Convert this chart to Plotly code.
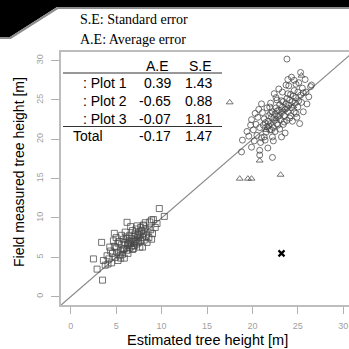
import plotly.graph_objects as go

# ---------------- data ----------------
plot1_est = [9.75, 10.3, 8.9, 6.2, 8.0, 4.8, 3.4, 2.5, 2.9, 3.5, 4.1, 3.6,
             5.0, 5.3, 5.5, 5.6, 5.8, 5.9, 6.0, 6.1, 6.2, 6.3, 6.4, 6.5, 6.5, 6.6, 6.7, 6.8, 6.9, 7.0,
             7.0, 7.1, 7.2, 7.3, 7.4, 7.5, 7.5, 7.6, 7.7, 7.8, 7.9, 8.0, 8.1, 8.2, 8.3, 8.5, 8.6, 8.8,
             9.0, 4.6, 4.8, 4.9, 5.1, 5.2, 5.4, 5.7, 5.2, 5.5, 4.4, 4.2, 4.5, 6.0, 5.6, 6.8, 7.2, 7.6,
             8.4, 8.9, 9.3, 9.5, 6.3, 6.9, 5.9, 4.0, 3.8, 4.7, 5.0, 6.6, 7.3, 8.0, 8.7, 7.9, 6.2, 6.7,
             7.4, 5.8, 6.4, 7.1, 7.7, 8.2, 9.1, 4.3]
plot1_obs = [11.2, 10.2, 9.75, 9.45, 9.1, 8.05, 6.9, 4.8, 3.5, 2.1, 4.15, 4.6,
             6.2, 7.0, 5.8, 6.6, 7.3, 6.1, 6.9, 7.6, 5.9, 6.5, 7.1, 7.8, 6.2, 6.8, 7.4, 6.0, 7.0, 7.7,
             6.5, 8.0, 7.2, 6.7, 7.5, 8.2, 6.9, 7.8, 7.1, 8.4, 7.5, 8.0, 7.2, 8.6, 7.7, 8.2, 7.5, 8.5,
             8.0, 5.5, 6.4, 5.0, 5.6, 6.8, 5.2, 5.4, 4.6, 4.9, 5.8, 4.8, 4.3, 8.2, 7.8, 8.4, 8.6, 6.3,
             6.9, 7.3, 8.8, 9.3, 5.5, 6.1, 4.9, 5.2, 4.0, 7.1, 7.5, 8.9, 9.0, 9.0, 9.5, 6.3, 7.4, 6.4,
             7.9, 6.0, 6.8, 7.0, 8.8, 9.4, 9.8, 6.3]

plot2_est = [23.8, 25.3, 23.9, 25.8, 26.4, 24.8, 25.6, 26.0, 25.2, 22.7, 19.9, 19.8, 20.1, 23.2,
             22.2, 18.9, 18.8, 20.8, 22.2, 20.8,
             20.5, 20.8, 21.0, 21.2, 21.3, 21.5, 21.6, 21.7, 21.8, 21.9, 22.0, 22.1, 22.2, 22.3,
             22.4, 22.5, 22.6, 22.7, 22.8, 22.9, 23.0, 23.1, 23.2, 23.3, 23.4, 23.5, 23.6, 23.7,
             23.8, 23.9, 24.0, 24.1, 24.2, 24.3, 24.4, 24.5, 24.6, 24.7, 24.8, 25.0, 25.1, 25.3,
             25.5, 20.2, 20.4, 20.6, 20.9, 21.1, 21.4, 21.9, 22.3, 22.6, 23.0, 23.4, 23.8, 24.2,
             24.6, 25.0, 25.4, 22.0, 21.6, 23.3, 24.0, 24.6, 25.9, 26.2, 19.6, 19.9, 20.3, 21.0,
             22.9, 23.7, 24.4, 25.6, 21.7, 22.5, 23.6, 24.9, 19.4, 20.7, 22.4, 24.3, 25.1, 26.5,
             21.3, 22.1, 22.8, 23.5, 24.1, 24.8, 22.0, 22.7, 23.2, 23.9, 21.4, 21.8, 23.0, 23.8]
plot2_obs = [30.2, 28.5, 27.6, 27.6, 26.7, 27.0, 25.9, 24.5, 22.0, 25.0, 22.5, 21.8, 21.2, 20.3,
             20.3, 19.9, 18.4, 18.6, 17.7, 18.0,
             20.5, 21.5, 20.2, 21.8, 22.6, 20.9, 21.6, 22.3, 23.0, 21.2, 22.0, 22.8, 23.5, 21.5,
             22.4, 23.2, 24.0, 22.0, 22.9, 23.7, 24.4, 22.5, 23.4, 24.1, 24.8, 23.0, 23.8, 24.5,
             25.2, 23.5, 24.3, 25.0, 25.7, 24.0, 24.8, 25.5, 26.2, 24.6, 25.3, 26.0, 24.9, 25.6,
             26.5, 19.8, 21.9, 22.8, 19.6, 23.4, 19.9, 24.1, 19.8, 25.3, 21.3, 21.9, 22.4, 23.0,
             23.5, 24.1, 24.7, 24.6, 24.0, 26.0, 26.8, 27.5, 26.0, 25.4, 20.4, 19.0, 23.3, 24.5,
             26.4, 26.9, 22.3, 23.5, 18.9, 21.0, 20.8, 22.8, 21.0, 23.8, 25.8, 27.9, 27.2, 26.9,
             20.3, 21.2, 21.8, 22.2, 22.7, 23.3, 23.3, 23.6, 24.9, 25.8, 22.1, 21.7, 23.0, 24.0]

plot3_est = [17.5, 18.6, 19.5, 19.9, 23.1, 20.8, 25.4, 21.5, 22.6, 24.5, 23.4]
plot3_obs = [24.7, 15.0, 15.0, 15.0, 15.5, 17.3, 28.1, 21.2, 22.6, 24.2, 23.7]

outlier_est = [23.2]
outlier_obs = [5.5]

ticks = [0, 5, 10, 15, 20, 25, 30]

table_rows = [": Plot 1", ": Plot 2", ": Plot 3"]
table_ae = ["0.39", "-0.65", "-0.07"]
table_se = ["1.43", "0.88", "1.81"]
total_ae = "-0.17"
total_se = "1.47"

# ---------------- geometry helpers (pixels -> paper) ----------------
W, H = 349, 349
ML, MR, MT, MB = 61, 0, 52, 44
PW, PH = W - ML - MR, H - MT - MB


def px(X):
    return (X - ML) / PW


def py(Y):
    return (H - MB - Y) / PH


XR = [-1.07, 30.63]
YR = [-1.06, 31.1]

SANS = "Liberation Sans, Arial, sans-serif"
SERIF = "Liberation Serif, Times New Roman, serif"
MK = "rgba(70,70,70,0.75)"

fig = go.Figure()

# 1:1 line
fig.add_trace(go.Scatter(x=[XR[0] - 1, XR[1] + 1], y=[XR[0] - 1, XR[1] + 1], mode="lines",
                         line=dict(color="#8a8a8a", width=1.2), hoverinfo="skip"))

fig.add_trace(go.Scatter(x=plot1_est, y=plot1_obs, mode="markers",
                         marker=dict(symbol="square-open", size=6, color=MK, line=dict(width=1))))
fig.add_trace(go.Scatter(x=plot2_est, y=plot2_obs, mode="markers",
                         marker=dict(symbol="circle-open", size=6, color=MK, line=dict(width=1))))
fig.add_trace(go.Scatter(x=plot3_est, y=plot3_obs, mode="markers",
                         marker=dict(symbol="triangle-up-open", size=6, color=MK, line=dict(width=1))))
fig.add_trace(go.Scatter(x=outlier_est, y=outlier_obs, mode="markers",
                         marker=dict(symbol="x-thin-open", size=6, color="black",
                                     line=dict(width=2.2, color="black"))))

ann = []


def text(X, Y, s, anchor="center", size=14, font=SANS, color="black"):
    ann.append(dict(x=px(X), y=py(Y), xref="paper", yref="paper", text=s, showarrow=False,
                    xanchor=anchor, yanchor="middle",
                    font=dict(family=font, size=size, color=color)))


# notes
text(78, 19, "S.E: Standard error", anchor="left", size=14, font=SERIF)
text(78, 39, "A.E: Average error", anchor="left", size=14, font=SERIF)

# table
text(157, 66, "A.E")
text(200, 66, "S.E")
rows_y = [83, 101, 119]
for lab, ae, se, yy in zip(table_rows, table_ae, table_se, rows_y):
    text(129, yy, lab, anchor="right")
    text(173, yy, ae, anchor="right")
    text(214, yy, se, anchor="right")
text(71, 136, "Total", anchor="left")
text(173, 136, total_ae, anchor="right")
text(214, 136, total_se, anchor="right")

# axis titles
text(207, 340, "Estimated tree height [m]", size=14.5)
ann.append(dict(x=px(19), y=py(172), xref="paper", yref="paper", text="Field measured tree height [m]",
                showarrow=False, textangle=-90, xanchor="center", yanchor="middle",
                font=dict(family=SANS, size=14, color="black")))

shapes = [
    # table rules
    dict(type="line", xref="paper", yref="paper", x0=px(63), x1=px(222), y0=py(73), y1=py(73),
         line=dict(color="#333", width=1.2)),
    dict(type="line", xref="paper", yref="paper", x0=px(63), x1=px(222), y0=py(126.5), y1=py(126.5),
         line=dict(color="#333", width=1.2)),
    # black page corner
    dict(type="path", xref="paper", yref="paper", layer="above",
         path=f"M {px(0)},{py(0)} L {px(349)},{py(0)} L {px(349)},{py(7)} L {px(57)},{py(7)} "
              f"L {px(10)},{py(37)} L {px(0)},{py(37)} Z",
         fillcolor="black", line=dict(width=0)),
    dict(type="path", xref="paper", yref="paper", layer="above",
         path=f"M {px(349)},{py(8)} L {px(57.5)},{py(8)} L {px(10.5)},{py(38)} L {px(0)},{py(38)}",
         line=dict(color="#8c8c8c", width=2.2)),
]

axis_common = dict(showgrid=False, zeroline=False, showline=True, linecolor="#bdbdbd", linewidth=2,
                   ticks="outside", tickcolor="#b0b0b0", tickwidth=1.2,
                   tickfont=dict(family=SANS, size=9, color="#a0a0a0"),
                   tickvals=ticks, ticktext=[str(t) for t in ticks])

fig.update_layout(
    width=W, height=H, margin=dict(l=ML, r=MR, t=MT, b=MB),
    paper_bgcolor="white", plot_bgcolor="white", showlegend=False,
    xaxis=dict(range=XR, mirror=True, ticklen=7, ticklabelstandoff=4, **axis_common),
    yaxis=dict(range=YR, ticklen=8, tickangle=-90, ticklabelstandoff=4, **axis_common),
    annotations=ann, shapes=shapes,
)

fig.write_html("out.html")
